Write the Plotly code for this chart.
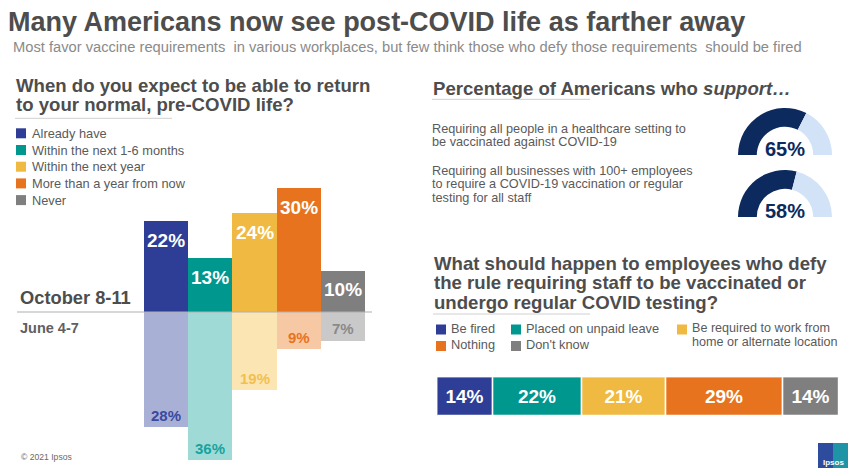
import plotly.graph_objects as go

W, H = 848, 468


def px(x):
    return x / W


def py(y):
    return 1 - y / H


FONT = "Liberation Sans, Arial, sans-serif"
HEAD_COLOR = "#4d4d4d"
TEXT_COLOR = "#5a5a5a"

# ---------------- data ----------------
title = "Many Americans now see post-COVID life as farther away"
subtitle = ("Most favor vaccine requirements  in various workplaces, but few think those "
            "who defy those requirements  should be fired")

return_question = ["When do you expect to be able to return", "to your normal, pre-COVID life?"]
return_categories = ["Already have", "Within the next 1-6 months", "Within the next year",
                     "More than a year from now", "Never"]
october_values = [22, 13, 24, 30, 10]
june_values = [28, 36, 19, 9, 7]
wave_labels = ["October 8-11", "June 4-7"]

support_title = "Percentage of Americans who "
support_title_italic = "support…"
support_items = [
    ["Requiring all people in a healthcare setting to", "be vaccinated against COVID-19"],
    ["Requiring all businesses with 100+ employees", "to require a COVID-19 vaccination or regular",
     "testing for all staff"],
]
support_values = [65, 58]

defy_question = ["What should happen to employees who defy",
                 "the rule requiring staff to be vaccinated or",
                 "undergo regular COVID testing?"]
defy_categories = ["Be fired", "Placed on unpaid leave",
                   "Be required to work from<br>home or alternate location", "Nothing", "Don't know"]
defy_values = [14, 22, 21, 29, 14]

copyright_text = "© 2021 Ipsos"

# ---------------- styles ----------------
dark_colors = ["#2e3d96", "#00978f", "#f0b941", "#e8731e", "#7f7f7f"]
light_colors = ["#a9b0d5", "#a0dad7", "#fbe5b3", "#f7c8a4", "#c9c9c9"]
june_text_colors = ["#3a4a9f", "#17a39c", "#f2c04f", "#e8731e", "#8a8a8a"]
gauge_dark = "#0c2a5e"
gauge_light = "#d3e3f7"

fig = go.Figure()

# ---------------- left bar chart ----------------
scale = 4.12  # px per percentage point
base_px = 312
idx = list(range(len(return_categories)))
fig.add_trace(go.Bar(
    x=idx, y=october_values, width=1, xaxis="x", yaxis="y",
    marker=dict(color=dark_colors, line=dict(width=0)),
    hoverinfo="skip", showlegend=False))
fig.add_trace(go.Bar(
    x=idx, y=[-v for v in june_values], width=1, xaxis="x", yaxis="y",
    marker=dict(color=light_colors, line=dict(width=0)),
    hoverinfo="skip", showlegend=False))

annotations = []
shapes = []

for i, v in enumerate(october_values):
    annotations.append(dict(x=i, y=v, xref="x", yref="y", yshift=-19, text=f"{v}%",
                            showarrow=False, xanchor="center", yanchor="middle",
                            font=dict(family=FONT, size=19, color="white", weight="bold")))
for i, v in enumerate(june_values):
    annotations.append(dict(x=i, y=-v, xref="x", yref="y", yshift=12, text=f"{v}%",
                            showarrow=False, xanchor="center", yanchor="middle",
                            font=dict(family=FONT, size=15, color=june_text_colors[i], weight="bold")))

# baseline
shapes.append(dict(type="line", xref="paper", yref="y", x0=px(17), x1=px(372), y0=0, y1=0,
                   line=dict(color="#b0b0b0", width=1.2)))

# wave labels
annotations.append(dict(x=px(18), y=py(297), xref="paper", yref="paper", text=wave_labels[0],
                        showarrow=False, xanchor="left", yanchor="middle",
                        font=dict(family=FONT, size=18.3, color=HEAD_COLOR, weight="bold")))
annotations.append(dict(x=px(18), y=py(327.5), xref="paper", yref="paper", text=wave_labels[1],
                        showarrow=False, xanchor="left", yanchor="middle",
                        font=dict(family=FONT, size=14.5, color="#606060", weight="bold")))

# left question
for line, yc in zip(return_question, [85.5, 104.5]):
    annotations.append(dict(x=px(14), y=py(yc), xref="paper", yref="paper", text=line,
                            showarrow=False, xanchor="left", yanchor="middle",
                            font=dict(family=FONT, size=18.6, color=HEAD_COLOR, weight="bold")))
shapes.append(dict(type="line", xref="paper", yref="paper", x0=px(15), x1=px(172),
                   y0=py(118.3), y1=py(118.3), line=dict(color="#d0d0d0", width=1)))

# left legend
for i, (cat, col) in enumerate(zip(return_categories, dark_colors)):
    yc = 133.3 + i * 16.7
    shapes.append(dict(type="rect", xref="paper", yref="paper", x0=px(16), x1=px(26),
                       y0=py(yc - 5), y1=py(yc + 5), fillcolor=col, line=dict(width=0)))
    annotations.append(dict(x=px(30), y=py(yc), xref="paper", yref="paper", text=cat,
                            showarrow=False, xanchor="left", yanchor="middle",
                            font=dict(family=FONT, size=12.8, color=TEXT_COLOR)))

# ---------------- title ----------------
annotations.append(dict(x=px(6), y=py(22), xref="paper", yref="paper", text=title,
                        showarrow=False, xanchor="left", yanchor="middle",
                        font=dict(family=FONT, size=27, color=HEAD_COLOR, weight="bold")))
annotations.append(dict(x=px(11), y=py(47.5), xref="paper", yref="paper", text=subtitle,
                        showarrow=False, xanchor="left", yanchor="middle",
                        font=dict(family=FONT, size=14.7, color="#8a8a8a")))

# ---------------- support gauges ----------------
annotations.append(dict(x=px(431), y=py(88), xref="paper", yref="paper",
                        text=support_title + "<i>" + support_title_italic + "</i>",
                        showarrow=False, xanchor="left", yanchor="middle",
                        font=dict(family=FONT, size=18.6, color=HEAD_COLOR, weight="bold")))
shapes.append(dict(type="line", xref="paper", yref="paper", x0=px(432), x1=px(590),
                   y0=py(99.3), y1=py(99.3), line=dict(color="#d0d0d0", width=1)))

item_line_y = [[128.5, 141.5], [171, 184.5, 198]]
for lines, ys in zip(support_items, item_line_y):
    for line, yc in zip(lines, ys):
        annotations.append(dict(x=px(431), y=py(yc), xref="paper", yref="paper", text=line,
                                showarrow=False, xanchor="left", yanchor="middle", borderpad=0,
                                font=dict(family=FONT, size=12.7, color=TEXT_COLOR)))

gauge_centers = [155, 217]
gauge_cx = 785
gauge_r = 47
for v, cy in zip(support_values, gauge_centers):
    fig.add_trace(go.Pie(
        values=[v, 100 - v, 100], sort=False, direction="clockwise", rotation=270,
        hole=0.6, textinfo="none", hoverinfo="skip", showlegend=False,
        marker=dict(colors=[gauge_dark, gauge_light, "rgba(0,0,0,0)"], line=dict(width=0)),
        domain=dict(x=[px(gauge_cx - gauge_r), px(gauge_cx + gauge_r)],
                    y=[py(cy + gauge_r), py(cy - gauge_r)])))
    annotations.append(dict(x=px(gauge_cx), y=py(cy - 6), xref="paper", yref="paper",
                            text=f"{v}%", showarrow=False, xanchor="center", yanchor="middle",
                            font=dict(family=FONT, size=20, color=gauge_dark, weight="bold")))

# ---------------- defy question ----------------
for line, yc in zip(defy_question, [263, 282.5, 302]):
    annotations.append(dict(x=px(432), y=py(yc), xref="paper", yref="paper", text=line,
                            showarrow=False, xanchor="left", yanchor="middle",
                            font=dict(family=FONT, size=18.6, color=HEAD_COLOR, weight="bold")))
shapes.append(dict(type="line", xref="paper", yref="paper", x0=px(433), x1=px(590),
                   y0=py(314), y1=py(314), line=dict(color="#d0d0d0", width=1)))

legend_pos = [(436, 329.5), (511, 329.5), (677, 329.5), (436, 346), (511, 346)]
for cat, col, (lx, ly) in zip(defy_categories, dark_colors, legend_pos):
    shapes.append(dict(type="rect", xref="paper", yref="paper", x0=px(lx), x1=px(lx + 10),
                       y0=py(ly - 5), y1=py(ly + 5), fillcolor=col, line=dict(width=0)))
    parts = cat.split("<br>")
    multi = len(parts) > 1
    for j, part in enumerate(parts):
        yc = ly - 2 + j * 14.5 if multi else ly - 1.5
        annotations.append(dict(x=px(lx + 14), y=py(yc), xref="paper", yref="paper",
                                text=part, showarrow=False, xanchor="left", yanchor="middle",
                                borderpad=0,
                                font=dict(family=FONT, size=12.6 if multi else 12.8,
                                          color=TEXT_COLOR)))

for cat, v, col in zip(defy_categories, defy_values, dark_colors):
    fig.add_trace(go.Bar(
        x=[v], y=[0], orientation="h", width=1, xaxis="x2", yaxis="y2",
        marker=dict(color=col, line=dict(color="white", width=1.5)),
        text=[f"{v}%"], textposition="inside", insidetextanchor="middle",
        textfont=dict(family=FONT, size=19, color="white", weight="bold"),
        hoverinfo="skip", showlegend=False, name=cat.replace("<br>", " ")))

# ---------------- footer ----------------
annotations.append(dict(x=px(19), y=py(457), xref="paper", yref="paper", text=copyright_text,
                        showarrow=False, xanchor="left", yanchor="middle",
                        font=dict(family=FONT, size=8.6, color="#6a6a6a")))
shapes.append(dict(type="rect", xref="paper", yref="paper", x0=px(818), x1=px(848),
                   y0=py(468), y1=py(443), fillcolor="#2e4c9e", line=dict(width=0)))
shapes.append(dict(type="rect", xref="paper", yref="paper", x0=px(833), x1=px(848),
                   y0=py(468), y1=py(443), fillcolor="#1f94a6", line=dict(width=0)))
annotations.append(dict(x=px(833), y=py(462), xref="paper", yref="paper", text="Ipsos",
                        showarrow=False, xanchor="center", yanchor="middle",
                        font=dict(family=FONT, size=8, color="white", weight="bold")))

fig.update_layout(
    width=W, height=H, margin=dict(l=0, r=0, t=0, b=0),
    paper_bgcolor="white", plot_bgcolor="rgba(0,0,0,0)",
    barmode="relative", bargap=0, showlegend=False,
    xaxis=dict(domain=[px(144), px(365)], range=[-0.5, 4.5], visible=False, fixedrange=True),
    yaxis=dict(domain=[0, 1], range=[-(H - base_px) / scale, base_px / scale], visible=False,
               fixedrange=True),
    xaxis2=dict(domain=[px(437.3), px(839.3)], range=[0, 100], visible=False, anchor="y2",
                fixedrange=True),
    yaxis2=dict(domain=[py(416.7), py(377.3)], range=[-0.5, 0.5], visible=False, anchor="x2",
                fixedrange=True),
    annotations=annotations, shapes=shapes,
)

fig.write_html("out.html", config={"displayModeBar": False},
               post_script="document.body.style.margin='0px';document.body.style.overflow='hidden';")
